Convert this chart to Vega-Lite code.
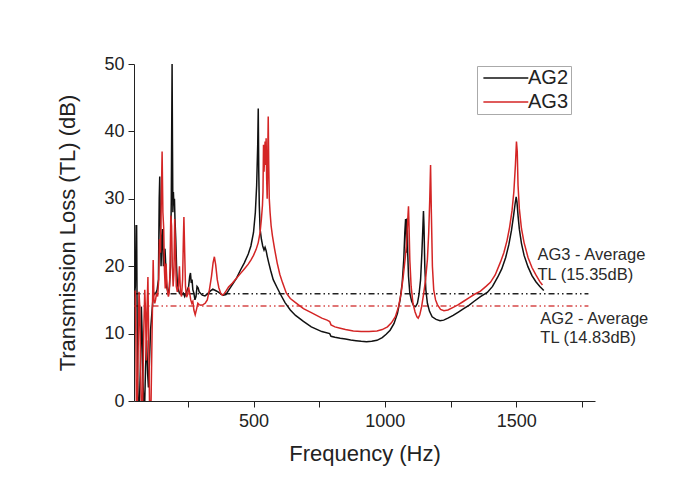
{
  "$schema": "https://vega.github.io/schema/vega-lite/v6.json",
  "autosize": {"type": "none"},
  "width": 461,
  "height": 337,
  "padding": {"left": 134, "top": 64, "right": 82, "bottom": 76},
  "background": "white",
  "config": {
    "view": {"stroke": null},
    "font": "Liberation Sans",
    "axis": {"grid": false, "domainColor": "#222", "tickColor": "#222", "labelColor": "#222", "titleColor": "#222", "labelFont": "Liberation Sans", "titleFont": "Liberation Sans", "titleFontWeight": "normal", "labelFontSize": 18, "titleFontSize": 22}
  },
  "datasets": {
    "curves": [
      {"s":"AG2","f":47,"tl":15.5},{"s":"AG2","f":50,"tl":17},{"s":"AG2","f":53,"tl":26},{"s":"AG2","f":55,"tl":26},{"s":"AG2","f":57,"tl":12},{"s":"AG2","f":59,"tl":3},{"s":"AG2","f":61,"tl":0},{"s":"AG2","f":66,"tl":0},{"s":"AG2","f":70,"tl":6},{"s":"AG2","f":73,"tl":14},{"s":"AG2","f":76,"tl":10},{"s":"AG2","f":79,"tl":3},{"s":"AG2","f":82,"tl":0},{"s":"AG2","f":86,"tl":0},{"s":"AG2","f":89,"tl":5},{"s":"AG2","f":93,"tl":9},{"s":"AG2","f":97,"tl":4},{"s":"AG2","f":100,"tl":2},{"s":"AG2","f":104,"tl":6},{"s":"AG2","f":108,"tl":10.5},{"s":"AG2","f":113,"tl":13},{"s":"AG2","f":118,"tl":15.5},{"s":"AG2","f":123,"tl":16},{"s":"AG2","f":128,"tl":16},{"s":"AG2","f":133,"tl":16.5},{"s":"AG2","f":138,"tl":18},{"s":"AG2","f":141,"tl":30},{"s":"AG2","f":143,"tl":33.3},{"s":"AG2","f":145,"tl":28},{"s":"AG2","f":148,"tl":20},{"s":"AG2","f":151,"tl":24},{"s":"AG2","f":154,"tl":25.5},{"s":"AG2","f":157,"tl":20},{"s":"AG2","f":160,"tl":21},{"s":"AG2","f":163,"tl":22.6},{"s":"AG2","f":166,"tl":20},{"s":"AG2","f":169,"tl":17},{"s":"AG2","f":172,"tl":16.5},{"s":"AG2","f":176,"tl":16},{"s":"AG2","f":180,"tl":17},{"s":"AG2","f":184,"tl":20},{"s":"AG2","f":187,"tl":30},{"s":"AG2","f":190,"tl":50},{"s":"AG2","f":191.5,"tl":38},{"s":"AG2","f":193,"tl":28},{"s":"AG2","f":195,"tl":31},{"s":"AG2","f":197,"tl":29},{"s":"AG2","f":199,"tl":30},{"s":"AG2","f":201,"tl":27},{"s":"AG2","f":204,"tl":24},{"s":"AG2","f":207,"tl":20},{"s":"AG2","f":210,"tl":17.5},{"s":"AG2","f":214,"tl":16.5},{"s":"AG2","f":218,"tl":16},{"s":"AG2","f":223,"tl":16.2},{"s":"AG2","f":228,"tl":15.8},{"s":"AG2","f":233,"tl":16},{"s":"AG2","f":238,"tl":15.5},{"s":"AG2","f":243,"tl":16},{"s":"AG2","f":248,"tl":16.5},{"s":"AG2","f":253,"tl":17},{"s":"AG2","f":257,"tl":18.5},{"s":"AG2","f":260,"tl":19},{"s":"AG2","f":263,"tl":17.5},{"s":"AG2","f":266,"tl":18},{"s":"AG2","f":269,"tl":16.5},{"s":"AG2","f":273,"tl":16},{"s":"AG2","f":277,"tl":15},{"s":"AG2","f":281,"tl":15.5},{"s":"AG2","f":285,"tl":17},{"s":"AG2","f":289,"tl":16.8},{"s":"AG2","f":293,"tl":16.2},{"s":"AG2","f":298,"tl":16},{"s":"AG2","f":305,"tl":15.7},{"s":"AG2","f":315,"tl":15.6},{"s":"AG2","f":325,"tl":15.9},{"s":"AG2","f":335,"tl":16.3},{"s":"AG2","f":345,"tl":16.6},{"s":"AG2","f":355,"tl":16.4},{"s":"AG2","f":365,"tl":16.2},{"s":"AG2","f":375,"tl":15.9},{"s":"AG2","f":385,"tl":15.7},{"s":"AG2","f":395,"tl":15.8},{"s":"AG2","f":405,"tl":16.4},{"s":"AG2","f":420,"tl":17.3},{"s":"AG2","f":435,"tl":18.2},{"s":"AG2","f":450,"tl":19.4},{"s":"AG2","f":465,"tl":20.5},{"s":"AG2","f":480,"tl":21.8},{"s":"AG2","f":490,"tl":23},{"s":"AG2","f":500,"tl":25},{"s":"AG2","f":507,"tl":28},{"s":"AG2","f":512,"tl":32},{"s":"AG2","f":516,"tl":38},{"s":"AG2","f":518,"tl":43.4},{"s":"AG2","f":520,"tl":34},{"s":"AG2","f":522,"tl":29},{"s":"AG2","f":525,"tl":25.5},{"s":"AG2","f":530,"tl":24},{"s":"AG2","f":535,"tl":23},{"s":"AG2","f":540,"tl":22.4},{"s":"AG2","f":544,"tl":22.8},{"s":"AG2","f":548,"tl":22.3},{"s":"AG2","f":552,"tl":21.5},{"s":"AG2","f":558,"tl":20.5},{"s":"AG2","f":565,"tl":19.4},{"s":"AG2","f":575,"tl":18},{"s":"AG2","f":590,"tl":16.8},{"s":"AG2","f":603,"tl":15.8},{"s":"AG2","f":620,"tl":14.6},{"s":"AG2","f":640,"tl":13.5},{"s":"AG2","f":660,"tl":12.7},{"s":"AG2","f":690,"tl":11.8},{"s":"AG2","f":720,"tl":11},{"s":"AG2","f":760,"tl":10.3},{"s":"AG2","f":790,"tl":10},{"s":"AG2","f":795,"tl":9.6},{"s":"AG2","f":810,"tl":9.45},{"s":"AG2","f":830,"tl":9.3},{"s":"AG2","f":850,"tl":9.2},{"s":"AG2","f":870,"tl":9.05},{"s":"AG2","f":890,"tl":8.95},{"s":"AG2","f":910,"tl":8.85},{"s":"AG2","f":930,"tl":8.8},{"s":"AG2","f":950,"tl":8.85},{"s":"AG2","f":970,"tl":9},{"s":"AG2","f":990,"tl":9.4},{"s":"AG2","f":1005,"tl":9.9},{"s":"AG2","f":1020,"tl":10.5},{"s":"AG2","f":1035,"tl":11.5},{"s":"AG2","f":1048,"tl":13},{"s":"AG2","f":1058,"tl":15},{"s":"AG2","f":1066,"tl":17.5},{"s":"AG2","f":1072,"tl":21},{"s":"AG2","f":1076,"tl":25},{"s":"AG2","f":1079,"tl":27},{"s":"AG2","f":1081,"tl":26},{"s":"AG2","f":1083,"tl":22},{"s":"AG2","f":1085,"tl":27.1},{"s":"AG2","f":1087,"tl":22},{"s":"AG2","f":1090,"tl":18.5},{"s":"AG2","f":1095,"tl":16},{"s":"AG2","f":1102,"tl":14.8},{"s":"AG2","f":1110,"tl":14.1},{"s":"AG2","f":1117,"tl":14},{"s":"AG2","f":1124,"tl":14.5},{"s":"AG2","f":1130,"tl":15.8},{"s":"AG2","f":1136,"tl":18},{"s":"AG2","f":1141,"tl":22},{"s":"AG2","f":1145,"tl":26},{"s":"AG2","f":1147,"tl":28.2},{"s":"AG2","f":1149,"tl":26},{"s":"AG2","f":1152,"tl":20},{"s":"AG2","f":1156,"tl":16.5},{"s":"AG2","f":1162,"tl":14.5},{"s":"AG2","f":1170,"tl":13.3},{"s":"AG2","f":1180,"tl":12.5},{"s":"AG2","f":1195,"tl":12.1},{"s":"AG2","f":1210,"tl":11.9},{"s":"AG2","f":1224,"tl":12},{"s":"AG2","f":1240,"tl":12.3},{"s":"AG2","f":1260,"tl":12.7},{"s":"AG2","f":1280,"tl":13.2},{"s":"AG2","f":1300,"tl":13.7},{"s":"AG2","f":1320,"tl":14.2},{"s":"AG2","f":1340,"tl":14.8},{"s":"AG2","f":1364,"tl":15.5},{"s":"AG2","f":1390,"tl":16.1},{"s":"AG2","f":1410,"tl":17},{"s":"AG2","f":1430,"tl":18.4},{"s":"AG2","f":1445,"tl":19.6},{"s":"AG2","f":1460,"tl":21.3},{"s":"AG2","f":1472,"tl":23.2},{"s":"AG2","f":1482,"tl":25.3},{"s":"AG2","f":1490,"tl":27.5},{"s":"AG2","f":1496,"tl":29.3},{"s":"AG2","f":1500,"tl":30.3},{"s":"AG2","f":1503,"tl":29.5},{"s":"AG2","f":1507,"tl":27.5},{"s":"AG2","f":1512,"tl":25.5},{"s":"AG2","f":1520,"tl":23.4},{"s":"AG2","f":1530,"tl":21.6},{"s":"AG2","f":1545,"tl":19.9},{"s":"AG2","f":1560,"tl":18.6},{"s":"AG2","f":1575,"tl":17.7},{"s":"AG2","f":1590,"tl":17},{"s":"AG2","f":1605,"tl":16.4},
      {"s":"AG3","f":47,"tl":16.3},{"s":"AG3","f":50,"tl":16.3},{"s":"AG3","f":52,"tl":10},{"s":"AG3","f":54,"tl":0},{"s":"AG3","f":58,"tl":0},{"s":"AG3","f":61,"tl":8},{"s":"AG3","f":64,"tl":16.2},{"s":"AG3","f":67,"tl":14},{"s":"AG3","f":70,"tl":5},{"s":"AG3","f":73,"tl":0},{"s":"AG3","f":78,"tl":0},{"s":"AG3","f":82,"tl":10},{"s":"AG3","f":86,"tl":16.5},{"s":"AG3","f":89,"tl":13},{"s":"AG3","f":92,"tl":6},{"s":"AG3","f":95,"tl":14},{"s":"AG3","f":98,"tl":18.4},{"s":"AG3","f":101,"tl":9},{"s":"AG3","f":104,"tl":0},{"s":"AG3","f":110,"tl":0},{"s":"AG3","f":113,"tl":8},{"s":"AG3","f":118,"tl":20.9},{"s":"AG3","f":121,"tl":15},{"s":"AG3","f":124,"tl":14.5},{"s":"AG3","f":127,"tl":15},{"s":"AG3","f":131,"tl":16},{"s":"AG3","f":135,"tl":15.5},{"s":"AG3","f":139,"tl":18},{"s":"AG3","f":142,"tl":24},{"s":"AG3","f":146,"tl":22},{"s":"AG3","f":149,"tl":30},{"s":"AG3","f":152,"tl":37},{"s":"AG3","f":155,"tl":28},{"s":"AG3","f":158,"tl":25.7},{"s":"AG3","f":161,"tl":19.3},{"s":"AG3","f":164,"tl":16.7},{"s":"AG3","f":167,"tl":20.4},{"s":"AG3","f":170,"tl":17.7},{"s":"AG3","f":173,"tl":16},{"s":"AG3","f":176,"tl":15.5},{"s":"AG3","f":179,"tl":16},{"s":"AG3","f":182,"tl":19},{"s":"AG3","f":185,"tl":27.5},{"s":"AG3","f":188,"tl":26},{"s":"AG3","f":191,"tl":20},{"s":"AG3","f":194,"tl":17},{"s":"AG3","f":197,"tl":19},{"s":"AG3","f":200,"tl":27},{"s":"AG3","f":203,"tl":22},{"s":"AG3","f":206,"tl":17},{"s":"AG3","f":210,"tl":16.2},{"s":"AG3","f":214,"tl":17},{"s":"AG3","f":218,"tl":20},{"s":"AG3","f":222,"tl":16},{"s":"AG3","f":226,"tl":15.5},{"s":"AG3","f":230,"tl":18},{"s":"AG3","f":233,"tl":24},{"s":"AG3","f":235,"tl":27.3},{"s":"AG3","f":238,"tl":22},{"s":"AG3","f":241,"tl":17},{"s":"AG3","f":245,"tl":15.4},{"s":"AG3","f":249,"tl":15.8},{"s":"AG3","f":253,"tl":16.9},{"s":"AG3","f":257,"tl":16},{"s":"AG3","f":261,"tl":15},{"s":"AG3","f":265,"tl":14.5},{"s":"AG3","f":269,"tl":14.8},{"s":"AG3","f":273,"tl":13.5},{"s":"AG3","f":278,"tl":12.8},{"s":"AG3","f":283,"tl":13.6},{"s":"AG3","f":288,"tl":14.5},{"s":"AG3","f":293,"tl":14.3},{"s":"AG3","f":300,"tl":14.2},{"s":"AG3","f":308,"tl":14.3},{"s":"AG3","f":316,"tl":14.5},{"s":"AG3","f":324,"tl":15},{"s":"AG3","f":332,"tl":16.5},{"s":"AG3","f":340,"tl":18.5},{"s":"AG3","f":346,"tl":20.5},{"s":"AG3","f":351,"tl":21.4},{"s":"AG3","f":356,"tl":20.2},{"s":"AG3","f":362,"tl":18},{"s":"AG3","f":368,"tl":16.8},{"s":"AG3","f":375,"tl":16},{"s":"AG3","f":381,"tl":15.7},{"s":"AG3","f":388,"tl":15.9},{"s":"AG3","f":395,"tl":16.3},{"s":"AG3","f":405,"tl":16.9},{"s":"AG3","f":420,"tl":17.5},{"s":"AG3","f":435,"tl":18.2},{"s":"AG3","f":450,"tl":18.9},{"s":"AG3","f":465,"tl":19.6},{"s":"AG3","f":480,"tl":20.3},{"s":"AG3","f":490,"tl":20.9},{"s":"AG3","f":500,"tl":21.6},{"s":"AG3","f":510,"tl":22.5},{"s":"AG3","f":518,"tl":23.5},{"s":"AG3","f":525,"tl":25},{"s":"AG3","f":530,"tl":27},{"s":"AG3","f":534,"tl":29},{"s":"AG3","f":536,"tl":31},{"s":"AG3","f":538,"tl":38},{"s":"AG3","f":540,"tl":34},{"s":"AG3","f":542,"tl":36},{"s":"AG3","f":544,"tl":38.5},{"s":"AG3","f":546,"tl":35},{"s":"AG3","f":548,"tl":39},{"s":"AG3","f":550,"tl":33},{"s":"AG3","f":552,"tl":30},{"s":"AG3","f":554,"tl":36},{"s":"AG3","f":556,"tl":42.2},{"s":"AG3","f":558,"tl":35},{"s":"AG3","f":560,"tl":30},{"s":"AG3","f":563,"tl":28},{"s":"AG3","f":567,"tl":26},{"s":"AG3","f":572,"tl":24.5},{"s":"AG3","f":580,"tl":22.6},{"s":"AG3","f":590,"tl":20.5},{"s":"AG3","f":600,"tl":18.8},{"s":"AG3","f":610,"tl":17.6},{"s":"AG3","f":625,"tl":16},{"s":"AG3","f":640,"tl":15.2},{"s":"AG3","f":660,"tl":14.6},{"s":"AG3","f":690,"tl":13.7},{"s":"AG3","f":720,"tl":13.1},{"s":"AG3","f":740,"tl":12.7},{"s":"AG3","f":760,"tl":12.3},{"s":"AG3","f":780,"tl":12},{"s":"AG3","f":790,"tl":11.8},{"s":"AG3","f":795,"tl":11.3},{"s":"AG3","f":810,"tl":11},{"s":"AG3","f":830,"tl":10.8},{"s":"AG3","f":850,"tl":10.6},{"s":"AG3","f":880,"tl":10.4},{"s":"AG3","f":910,"tl":10.3},{"s":"AG3","f":940,"tl":10.3},{"s":"AG3","f":970,"tl":10.4},{"s":"AG3","f":990,"tl":10.6},{"s":"AG3","f":1010,"tl":11},{"s":"AG3","f":1025,"tl":11.6},{"s":"AG3","f":1040,"tl":12.5},{"s":"AG3","f":1052,"tl":14},{"s":"AG3","f":1062,"tl":16},{"s":"AG3","f":1070,"tl":18.5},{"s":"AG3","f":1077,"tl":21},{"s":"AG3","f":1082,"tl":23},{"s":"AG3","f":1086,"tl":26},{"s":"AG3","f":1088,"tl":27.5},{"s":"AG3","f":1090,"tl":28.9},{"s":"AG3","f":1092,"tl":26},{"s":"AG3","f":1095,"tl":21},{"s":"AG3","f":1100,"tl":17},{"s":"AG3","f":1107,"tl":14.5},{"s":"AG3","f":1115,"tl":13.2},{"s":"AG3","f":1122,"tl":12.5},{"s":"AG3","f":1127,"tl":12.3},{"s":"AG3","f":1133,"tl":12.8},{"s":"AG3","f":1140,"tl":14},{"s":"AG3","f":1148,"tl":16},{"s":"AG3","f":1155,"tl":18},{"s":"AG3","f":1162,"tl":21},{"s":"AG3","f":1167,"tl":25},{"s":"AG3","f":1171,"tl":30},{"s":"AG3","f":1174,"tl":35},{"s":"AG3","f":1177,"tl":28},{"s":"AG3","f":1181,"tl":20},{"s":"AG3","f":1186,"tl":16.5},{"s":"AG3","f":1193,"tl":15},{"s":"AG3","f":1200,"tl":14.3},{"s":"AG3","f":1212,"tl":13.6},{"s":"AG3","f":1225,"tl":13.4},{"s":"AG3","f":1240,"tl":13.5},{"s":"AG3","f":1260,"tl":13.9},{"s":"AG3","f":1280,"tl":14.3},{"s":"AG3","f":1300,"tl":14.8},{"s":"AG3","f":1320,"tl":15.3},{"s":"AG3","f":1340,"tl":15.8},{"s":"AG3","f":1364,"tl":16.3},{"s":"AG3","f":1385,"tl":17},{"s":"AG3","f":1402,"tl":17.6},{"s":"AG3","f":1420,"tl":18.7},{"s":"AG3","f":1440,"tl":20.6},{"s":"AG3","f":1453,"tl":22},{"s":"AG3","f":1465,"tl":23.8},{"s":"AG3","f":1475,"tl":25.8},{"s":"AG3","f":1484,"tl":28.2},{"s":"AG3","f":1491,"tl":31},{"s":"AG3","f":1497,"tl":35},{"s":"AG3","f":1501,"tl":38.5},{"s":"AG3","f":1504,"tl":37},{"s":"AG3","f":1507,"tl":32},{"s":"AG3","f":1512,"tl":28.5},{"s":"AG3","f":1520,"tl":25.6},{"s":"AG3","f":1530,"tl":23.5},{"s":"AG3","f":1545,"tl":21.3},{"s":"AG3","f":1560,"tl":19.8},{"s":"AG3","f":1575,"tl":18.7},{"s":"AG3","f":1590,"tl":17.7},{"s":"AG3","f":1600,"tl":17.2}
    ]
  },
  "layer": [
    {
      "data": {"values": [{"f": 47, "f2": 1775, "tl": 15.9}]},
      "mark": {"type": "rule", "color": "#222", "strokeWidth": 1.5, "strokeDash": [6, 3, 1.5, 3, 1.5, 3]},
      "encoding": {
        "x": {"field": "f", "type": "quantitative", "scale": {"domain": [45, 1800]}},
        "x2": {"field": "f2"},
        "y": {"field": "tl", "type": "quantitative", "scale": {"domain": [0, 50]}}
      }
    },
    {
      "data": {"values": [{"f": 47, "f2": 1775, "tl": 14.1}]},
      "mark": {"type": "rule", "color": "#d64848", "strokeWidth": 1.5, "strokeDash": [6, 3, 1.5, 3, 1.5, 3]},
      "encoding": {
        "x": {"field": "f", "type": "quantitative"},
        "x2": {"field": "f2"},
        "y": {"field": "tl", "type": "quantitative"}
      }
    },
    {
      "data": {"name": "curves"},
      "mark": {"type": "line", "strokeWidth": 1.5, "clip": true},
      "encoding": {
        "x": {
          "field": "f", "type": "quantitative",
          "scale": {"domain": [45, 1800], "nice": false, "zero": false},
          "axis": {"title": "Frequency (Hz)", "values": [250, 500, 750, 1000, 1250, 1500, 1750], "labelExpr": "datum.value % 500 === 0 ? datum.label : ''", "tickSize": 6, "labelPadding": 5, "titlePadding": 13, "format": "d"}
        },
        "y": {
          "field": "tl", "type": "quantitative",
          "scale": {"domain": [0, 50], "nice": false},
          "axis": {"title": "Transmission Loss (TL) (dB)", "values": [0, 5, 10, 15, 20, 25, 30, 35, 40, 45, 50], "labelExpr": "datum.value % 10 === 0 ? datum.label : ''", "tickSize": 6, "labelPadding": 4, "titlePadding": 24}
        },
        "color": {
          "field": "s", "type": "nominal",
          "scale": {"domain": ["AG2", "AG3"], "range": ["#111111", "#d42525"]},
          "legend": {
            "title": null, "orient": "none", "legendX": 343, "legendY": 2,
            "strokeColor": "#aaaaaa", "padding": 2, "rowPadding": 4,
            "symbolType": "M-1,0H7", "symbolSize": 126, "symbolStrokeWidth": 1.5,
            "labelFontSize": 20, "labelFont": "Liberation Sans", "labelColor": "#222", "labelOffset": 29
          }
        }
      }
    },
    {
      "data": {"values": [
        {"f": 1581, "tl": 20.9, "t": "AG3 - Average"},
        {"f": 1581, "tl": 17.95, "t": "TL (15.35dB)"},
        {"f": 1592, "tl": 11.4, "t": "AG2 - Average"},
        {"f": 1592, "tl": 8.6, "t": "TL (14.83dB)"}
      ]},
      "mark": {"type": "text", "align": "left", "baseline": "alphabetic", "fontSize": 16.5, "font": "Liberation Sans", "color": "#2a2a2a"},
      "encoding": {
        "x": {"field": "f", "type": "quantitative"},
        "y": {"field": "tl", "type": "quantitative"},
        "text": {"field": "t"}
      }
    }
  ]
}
